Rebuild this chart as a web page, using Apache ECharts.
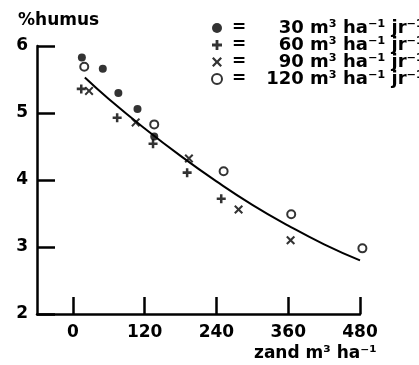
<!DOCTYPE html>
<html>
<head>
<meta charset="utf-8">
<script src="https://cdn.jsdelivr.net/npm/echarts@6/dist/echarts.min.js"></script>
<style>
  html, body { margin: 0; padding: 0; background: #fff; }
  #chart { width: 419px; height: 365px; }
</style>
</head>
<body>
<div id="chart"></div>
<script>
// sand (m3/ha) vs % humus, one list per dose
const dose30 = [[15, 5.83], [50, 5.66], [76, 5.30], [108, 5.06], [136, 4.65]];
const dose60 = [[14, 5.36], [74, 4.93], [134, 4.54], [191, 4.11], [248, 3.72]];
const dose90 = [[27, 5.33], [105, 4.86], [194, 4.32], [277, 3.56], [364, 3.10]];
const dose120 = [[19, 5.69], [136, 4.83], [252, 4.13], [365, 3.49], [484, 2.98]];
// fitted curve
const fitLine = [[20, 5.53], [60, 5.21], [120, 4.77], [180, 4.36], [240, 3.98],
                 [300, 3.63], [360, 3.32], [420, 3.04], [480, 2.80]];

const xTicks = [0, 120, 240, 360, 480];
const legendNames = ['30 m³ ha⁻¹ jr⁻¹', '60 m³ ha⁻¹ jr⁻¹', '90 m³ ha⁻¹ jr⁻¹', '120 m³ ha⁻¹ jr⁻¹'];

const FONT = 'DejaVu Sans';
const PLUS = 'path://M3.6,0H6.4V3.6H10V6.4H6.4V10H3.6V6.4H0V3.6H3.6Z';
const CROSS = 'path://M0,1.6L1.6,0L5,3.4L8.4,0L10,1.6L6.6,5L10,8.4L8.4,10L5,6.6L1.6,10L0,8.4L3.4,5Z';

const chart = echarts.init(document.getElementById('chart'));

const scatter = (name, data, symbol, size, style) => ({
  name: name,
  type: 'scatter',
  data: data,
  symbol: symbol,
  symbolSize: size,
  clip: false,
  itemStyle: style || { color: '#000' },
  z: 3
});

chart.setOption({
  animation: false,
  backgroundColor: '#fff',
  textStyle: { fontFamily: FONT, color: '#000' },
  grid: { left: 37, right: 59, top: 46, bottom: 51 },
  legend: {
    orient: 'vertical',
    left: 211,
    top: 19,
    padding: 0,
    itemGap: -1,
    itemWidth: 10,
    itemHeight: 10,
    data: legendNames,
    formatter: n => '{e|=}{t|' + n + '}',
    textStyle: {
      rich: {
        e: { width: 24, align: 'center', fontFamily: FONT, fontWeight: 'bold', fontSize: 17, lineHeight: 17, color: '#000' },
        t: { width: 173, align: 'right', fontFamily: FONT, fontWeight: 'bold', fontSize: 18, lineHeight: 17, color: '#000' }
      }
    }
  },
  xAxis: {
    type: 'value',
    min: -60,
    max: 480,
    splitLine: { show: false },
    axisLine: { onZero: false, lineStyle: { color: '#000', width: 2.5 } },
    axisTick: { inside: true, length: 17, customValues: xTicks, lineStyle: { color: '#000', width: 2.5 } },
    axisLabel: { customValues: xTicks, margin: 10, fontFamily: FONT, fontWeight: 'bold', fontSize: 17, color: '#000' }
  },
  yAxis: {
    type: 'value',
    min: 2,
    max: 6,
    interval: 1,
    splitLine: { show: false },
    axisLine: { onZero: false, lineStyle: { color: '#000', width: 2.5 } },
    axisTick: { inside: true, length: 18, lineStyle: { color: '#000', width: 2.5 } },
    axisLabel: { margin: 9, fontFamily: FONT, fontWeight: 'bold', fontSize: 17, color: '#000' }
  },
  graphic: [
    { type: 'text', left: 18, top: 12, style: { text: '%humus', font: 'bold 17px "DejaVu Sans"', fill: '#000' } },
    { type: 'text', left: 254, top: 345, style: { text: 'zand m³ ha⁻¹', font: 'bold 17px "DejaVu Sans"', fill: '#000' } }
  ],
  series: [
    {
      name: 'fit',
      type: 'line',
      data: fitLine,
      smooth: true,
      showSymbol: false,
      lineStyle: { color: '#000', width: 2 },
      z: 2
    },
    scatter(legendNames[0], dose30, 'circle', 8),
    scatter(legendNames[1], dose60, PLUS, 9),
    scatter(legendNames[2], dose90, CROSS, 9),
    scatter(legendNames[3], dose120, 'circle', 8, { color: '#fff', borderColor: '#000', borderWidth: 2 })
  ]
});
</script>
</body>
</html>
